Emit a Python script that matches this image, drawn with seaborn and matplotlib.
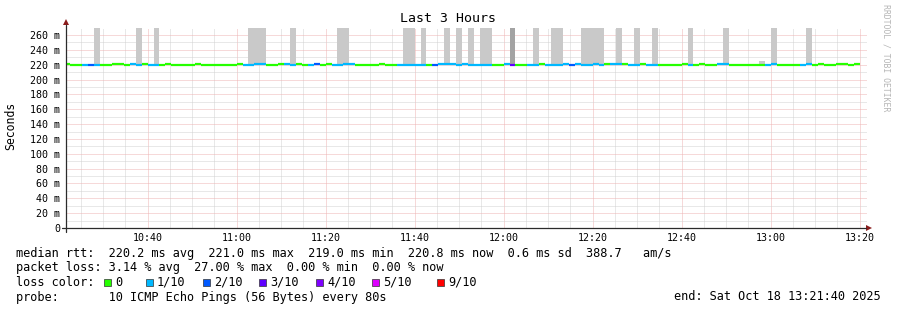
import matplotlib
matplotlib.use("Agg")
import numpy as np
import pandas as pd
import matplotlib.pyplot as plt
import seaborn as sns
from matplotlib.patches import Polygon, Rectangle
from matplotlib.lines import Line2D

# ---------------- data ----------------
title = "Last 3 Hours"
y_label = "Seconds"
start_time_s = 10 * 3600 + 21 * 60 + 20      # first 80 s step (10:21:20)
step_s = 80
view_start_min = 10 * 60 + 21 + 40 / 60        # 10:21:40
view_len_min = 180

# loss bucket per step (0 = 0/10, 1 = 1/10, ...)
loss = [0, 0, 0, 1, 2, 1, 0, 0, 0, 0,
        0, 1, 1, 0, 1, 1, 0, 0, 0, 0,
        0, 0, 0, 0, 0, 0, 0, 0, 0, 0,
        1, 1, 1, 1, 0, 0, 0, 1, 1, 0,
        0, 1, 2, 0, 0, 1, 1, 1, 1, 0,
        0, 0, 0, 0, 0, 0, 1, 1, 1, 1,
        1, 0, 2, 1, 1, 1, 1, 1, 1, 1,
        1, 1, 0, 0, 1, 3, 0, 0, 1, 1,
        0, 1, 1, 1, 1, 2, 1, 1, 1, 1,
        1, 0, 1, 1, 0, 1, 1, 0, 1, 1,
        0, 0, 0, 0, 0, 1, 0, 0, 0, 0,
        1, 1, 0, 0, 0, 0, 0, 0, 1, 1,
        0, 0, 0, 0, 1, 1, 0, 0, 0, 0,
        0, 0, 0, 0]

# median rtt per step (ms)
median_ms = [221, 220, 220, 220, 220, 220, 220, 220, 221, 221,
             220, 221, 220, 221, 220, 220, 220, 221, 220, 220,
             220, 220, 221, 220, 220, 220, 220, 220, 220, 221,
             220, 220, 221, 221, 220, 220, 221, 221, 220, 221,
             220, 220, 221, 220, 221, 220, 220, 221, 221, 220,
             220, 220, 220, 221, 219, 219, 219, 220, 219.5, 219.5,
             219.5, 219, 219, 221, 221, 221, 220, 220.5, 219, 219,
             219, 219, 219, 220, 221, 220, 220, 220, 220, 220,
             221, 220, 220, 220, 221, 220, 221, 220, 220, 221,
             220, 221, 221, 221, 221, 220, 220, 221, 220, 220,
             220, 220, 220, 220, 221, 220, 220, 221, 220, 220,
             221, 221, 220, 220, 220, 220, 220, 220, 220, 221,
             220, 220, 220, 220, 220, 221, 220, 221, 220, 220,
             221, 221, 220, 221]

# highest ping per step shown as smoke (0 = no smoke visible)
smoke_max_ms = [0, 0, 0, 0, 0, 400, 0, 0, 0, 0,
                0, 0, 400, 0, 0, 400, 0, 0, 0, 0,
                0, 0, 0, 0, 0, 0, 0, 0, 0, 0,
                0, 400, 400, 400, 0, 0, 0, 0, 400, 0,
                0, 0, 0, 0, 0, 0, 400, 400, 0, 0,
                0, 0, 0, 0, 0, 0, 0, 400, 400, 0,
                400, 0, 0, 0, 400, 0, 400, 0, 400, 0,
                400, 400, 0, 0, 0, 400, 0, 0, 0, 400,
                0, 0, 400, 400, 0, 0, 0, 400, 400, 400,
                400, 0, 0, 400, 0, 0, 400, 0, 0, 400,
                0, 0, 0, 0, 0, 400, 0, 0, 0, 0,
                0, 400, 0, 0, 0, 0, 0, 225, 0, 400,
                0, 0, 0, 0, 0, 400, 0, 0, 0, 0,
                0, 0, 0, 0]
dense_smoke_steps = [75]

x_tick_labels = ["10:40", "11:00", "11:20", "11:40", "12:00",
                 "12:20", "12:40", "13:00", "13:20"]
y_tick_values = [0, 20, 40, 60, 80, 100, 120, 140, 160, 180, 200, 220, 240, 260]
y_tick_labels = ["0", "20 m", "40 m", "60 m", "80 m", "100 m", "120 m", "140 m",
                 "160 m", "180 m", "200 m", "220 m", "240 m", "260 m"]

loss_labels = ["0", "1/10", "2/10", "3/10", "4/10", "5/10", "9/10"]
loss_buckets = [0, 1, 2, 3, 4, 5, 9]
loss_colors = ["#26ff00", "#00b8ff", "#0059ff", "#5e00ff", "#7e00ff", "#dd00ff", "#ff0000"]

rtt_stats = [220.2, 221.0, 219.0, 220.8]     # avg, max, min, now (ms)
rtt_sd = 0.6
rtt_ams = 388.7
loss_stats = [3.14, 27.00, 0.00, 0.00]       # avg, max, min, now (%)
probe_text = "10 ICMP Echo Pings (56 Bytes) every 80s"
end_text = "end: Sat Oct 18 13:21:40 2025"
watermark = "RRDTOOL / TOBI OETIKER"

# ---------------- figure ----------------
W, H = 897, 310
sns.set_theme(style="white")
plt.rcParams['font.family'] = ['DejaVu Sans Mono', 'DejaVu Sans']
plt.rcParams['text.color'] = 'black'

fig = plt.figure(figsize=(W / 100, H / 100), dpi=100, facecolor='white')


def fx(px):
    return px / W


def fy(py):
    return 1 - py / H


px_per_ms = (228 - 35) / 260.0
ax = fig.add_axes([fx(66), fy(228), 801 / W, 200 / H])
ax.set_facecolor('white')
ax.set_xlim(view_start_min, view_start_min + view_len_min)
ax.set_ylim(0, 200 / px_per_ms)
for s in ax.spines.values():
    s.set_visible(False)

# ticks / grid
major_x = [10 * 60 + 40 + 20 * i for i in range(len(x_tick_labels))]
minor_x = list(np.arange(10 * 60 + 25, view_start_min + view_len_min, 5))
ax.set_xticks(major_x)
ax.set_xticklabels(x_tick_labels)
ax.set_xticks(minor_x, minor=True)
ax.set_yticks(y_tick_values)
ax.set_yticklabels(y_tick_labels)
ax.set_yticks(list(range(10, 270, 10)), minor=True)
ax.tick_params(which='both', length=0)
ax.tick_params(axis='x', labelsize=7.2, pad=3.6, colors='black')
ax.tick_params(axis='y', labelsize=7.2, pad=4.3, colors='black')
ax.grid(which='major', color='#eeb4b4', lw=0.72, ls=(0, (1, 1)))
ax.grid(which='minor', color='#d2d2d2', lw=0.72, ls=(0, (1, 1)))
ax.set_axisbelow(True)

# step table
n = len(loss)
t_left = [(start_time_s + k * step_s) / 60 for k in range(n)]
t_right = [(start_time_s + (k + 1) * step_s) / 60 for k in range(n)]
df = pd.DataFrame({"t0": t_left, "t1": t_right, "median": median_ms,
                   "loss": loss, "smoke": smoke_max_ms})

# smoke
sm = df[df["smoke"] > 0]
dense = sm.index.isin(dense_smoke_steps)
ax.bar(sm["t0"][~dense], sm["smoke"][~dense] - sm["median"][~dense],
       bottom=sm["median"][~dense], width=step_s / 60, align='edge',
       color='#c9c9c9', linewidth=0, zorder=2)
ax.bar(sm["t0"][dense], sm["smoke"][dense] - sm["median"][dense],
       bottom=sm["median"][dense], width=step_s / 60, align='edge',
       color='#a3a3a3', linewidth=0, zorder=2)

# median line coloured by loss (one short segment per step)
seg = pd.concat([
    pd.DataFrame({"t": df["t0"], "ms": df["median"], "loss": df["loss"], "step": df.index}),
    pd.DataFrame({"t": df["t1"], "ms": df["median"], "loss": df["loss"], "step": df.index}),
]).sort_values(["step", "t"])
palette = dict(zip(loss_buckets, loss_colors))
sns.lineplot(data=seg, x="t", y="ms", hue="loss", units="step", estimator=None,
             palette={k: palette[k] for k in sorted(seg["loss"].unique())},
             linewidth=1.6, legend=False, ax=ax, sort=False, zorder=3,
             solid_capstyle='butt')
ax.set_xlabel("")
ax.set_ylabel("")

# axis lines with arrows
axis_col = '#2b2b2b'
arrow_col = '#8a1c1c'
fig.add_artist(Line2D([fx(62), fx(866)], [fy(228), fy(228)], color=axis_col, lw=0.9))
fig.add_artist(Line2D([fx(66), fx(66)], [fy(232), fy(25)], color=axis_col, lw=0.9))
fig.add_artist(Polygon([(fx(866), fy(225)), (fx(866), fy(231)), (fx(872), fy(228))],
                       closed=True, color=arrow_col, lw=0))
fig.add_artist(Polygon([(fx(63), fy(25)), (fx(69), fy(25)), (fx(66), fy(19))],
                       closed=True, color=arrow_col, lw=0))

# texts
fig.text(fx(448), fy(19), title, ha='center', va='center', fontsize=9.5)
fig.text(fx(11), fy(126), y_label, rotation=90, ha='center', va='center', fontsize=8.3)
fig.text(fx(886), fy(4), watermark, rotation=-90, ha='center', va='top',
         fontsize=5.9, color='#b5b5b5')

fs = 8.55
line1 = ("median rtt:  %.1f ms avg  %.1f ms max  %.1f ms min  %.1f ms now  %.1f ms sd  %.1f   am/s"
         % (rtt_stats[0], rtt_stats[1], rtt_stats[2], rtt_stats[3], rtt_sd, rtt_ams))
line2 = ("packet loss: %.2f %% avg  %.2f %% max  %.2f %% min  %.2f %% now"
         % tuple(loss_stats))
fig.text(fx(16), fy(253), line1, ha='left', va='center', fontsize=fs)
fig.text(fx(16), fy(268), line2, ha='left', va='center', fontsize=fs)
fig.text(fx(16), fy(282), "loss color:", ha='left', va='center', fontsize=fs)
box_x = [104, 146, 203, 259, 316, 372, 437]
for bx, lab, col in zip(box_x, loss_labels, loss_colors):
    fig.add_artist(Rectangle((fx(bx), fy(285.5)), 7 / W, 7 / H, facecolor=col,
                             edgecolor='#333333', lw=0.5))
    fig.text(fx(bx + 11), fy(282), lab, ha='left', va='center', fontsize=fs)
fig.text(fx(16), fy(297), "probe:       " + probe_text, ha='left', va='center', fontsize=fs)
fig.text(fx(881), fy(297), end_text, ha='right', va='center', fontsize=fs)

fig.savefig("out.png", dpi=100, facecolor='white')
